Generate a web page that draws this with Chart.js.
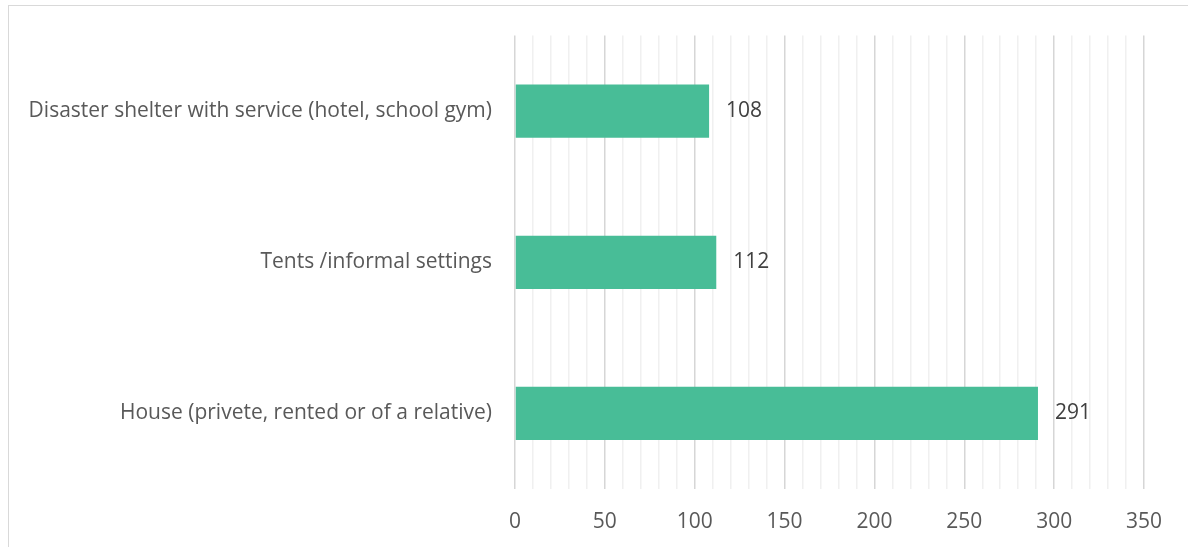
<!DOCTYPE html>
<html lang="en">
<head>
  <meta charset="UTF-8" />
  <title>Shelter type</title>
  <script src="https://cdn.jsdelivr.net/npm/chart.js"></script>
  <style>
    body { margin: 0; background: #fff; overflow: hidden; }
    .frame {
      position: absolute; left: 8px; top: 5px;
      width: 1200px; height: 560px;
      border: 1px solid #d9d9d9;
    }
    .box { position: absolute; left: 0; top: -6px; width: 1180px; height: 541px; }
  </style>
</head>
<body>
  <div class="frame">
    <div class="box"><canvas id="graphique"></canvas></div>
  </div>

  <script>
    const categories = [
      'Disaster shelter with service (hotel, school gym)',
      'Tents /informal settings',
      'House (privete, rented or of a relative)'
    ];
    const values = [108, 112, 291];
    const xMax = 350;
    const majorStep = 50;

    const police = "'Open Sans', 'Noto Sans', sans-serif";

    // valeurs affichées au bout des barres
    const etiquettes = {
      id: 'etiquettes',
      afterDatasetsDraw(chart) {
        const c = chart.ctx;
        const meta = chart.getDatasetMeta(0);
        c.save();
        c.font = '21px ' + police;
        c.fillStyle = '#404040';
        c.textBaseline = 'middle';
        c.textAlign = 'left';
        meta.data.forEach((bar, i) => {
          c.fillText(String(values[i]), bar.x + 17, bar.y);
        });
        c.restore();
      }
    };

    const ctx = document.getElementById('graphique').getContext('2d');
    const chart = new Chart(ctx, {
      type: 'bar',
      data: {
        labels: categories,
        datasets: [{
          data: values,
          backgroundColor: '#48bd97',
          borderWidth: 0,
          barPercentage: 0.7,
          categoryPercentage: 0.503
        }]
      },
      options: {
        indexAxis: 'y',
        responsive: true,
        maintainAspectRatio: false,
        animation: false,
        layout: { padding: { top: 22, right: 45, left: 0, bottom: 0 } },
        scales: {
          x: {
            min: 0,
            max: xMax,
            border: { display: false },
            grid: {
              drawTicks: false,
              lineWidth: 1.5,
              color: c => (c.tick && c.tick.value % majorStep === 0) ? '#d6d6d6' : '#f0f0f0'
            },
            ticks: {
              stepSize: 10,
              autoSkip: false,
              maxRotation: 0,
              padding: 20,
              color: '#595959',
              font: { family: police, size: 21 },
              callback: v => (v % majorStep === 0 ? v : '')
            },
            afterFit: s => { s.height = 52; }
          },
          y: {
            border: { display: false },
            grid: { display: false, drawTicks: false },
            ticks: {
              padding: 23,
              color: '#595959',
              font: { family: police, size: 21 }
            },
            afterFit: s => { s.width = 506; }
          }
        },
        plugins: {
          legend: { display: false },
          tooltip: { enabled: false }
        }
      },
      plugins: [etiquettes]
    });
  </script>
</body>
</html>
